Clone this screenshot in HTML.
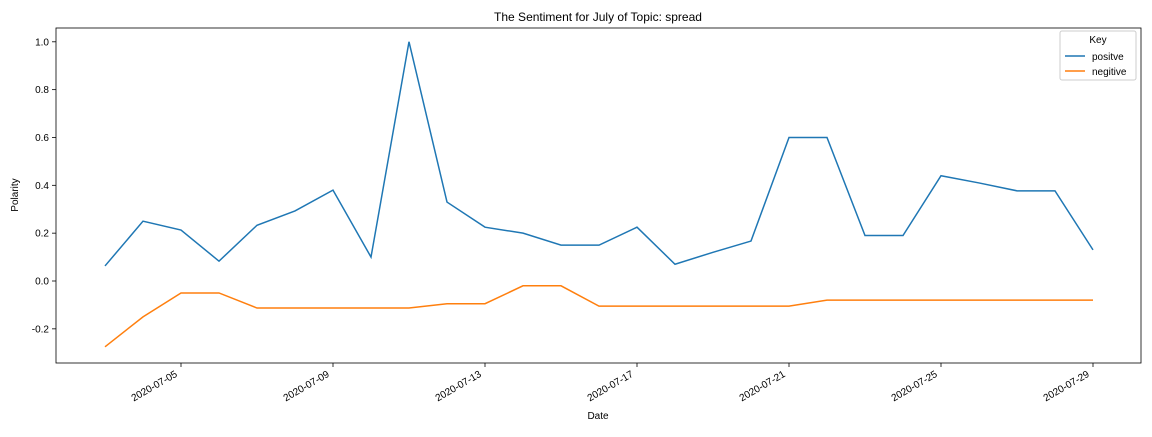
<!DOCTYPE html>
<html><head><meta charset="utf-8"><style>
body{margin:0;background:#fff;font-family:"Liberation Sans",sans-serif}
svg text{font-family:"Liberation Sans",sans-serif;fill:#000}
</style></head><body>
<svg id="chart" width="1152" height="432">
<rect x="0" y="0" width="1152" height="432" fill="#fff"/>
<text x="598" y="21" font-size="12" text-anchor="middle">The Sentiment for July of Topic: spread</text>
<text x="598" y="419" font-size="10" text-anchor="middle">Date</text>
<text x="18" y="195" font-size="10" text-anchor="middle" transform="rotate(-90 18 195)">Polarity</text>
<g id="axes"></g>
<g id="series"></g>
<rect x="56" y="28" width="1085" height="335" fill="none" stroke="#000" stroke-width="0.8"/>
<g>
<rect x="1060" y="31" width="76" height="49" fill="#fff" stroke="#ccc" rx="2"/>
<text x="1098" y="43" font-size="10" text-anchor="middle">Key</text>
<line x1="1065" y1="56" x2="1085" y2="56" stroke="#1f77b4" stroke-width="1.5"/>
<text x="1092" y="60" font-size="10">positve</text>
<line x1="1065" y1="71" x2="1085" y2="71" stroke="#ff7f0e" stroke-width="1.5"/>
<text x="1092" y="75" font-size="10">negitive</text>
</g>
</svg>
<script>
const days = [3,4,5,6,7,8,9,10,11,12,13,14,15,16,17,18,19,20,21,22,23,24,25,26,27,28,29];
const positive = [0.063,0.25,0.213,0.083,0.233,0.293,0.38,0.10,1.0,0.33,0.225,0.2,0.15,0.15,0.225,0.07,0.12,0.167,0.6,0.6,0.19,0.19,0.44,0.41,0.377,0.377,0.13];
const negative = [-0.275,-0.15,-0.05,-0.05,-0.113,-0.113,-0.113,-0.113,-0.113,-0.095,-0.095,-0.02,-0.02,-0.105,-0.105,-0.105,-0.105,-0.105,-0.105,-0.08,-0.08,-0.08,-0.08,-0.08,-0.08,-0.08,-0.08];
const yTicks = [-0.2,0,0.2,0.4,0.6,0.8,1.0];
const xTickDays = [5,9,13,17,21,25,29];
const xTickLabels = ["2020-07-05","2020-07-09","2020-07-13","2020-07-17","2020-07-21","2020-07-25","2020-07-29"];
const NS="http://www.w3.org/2000/svg";
const xs = d => 105 + (d-3)*38;
const ys = v => 281 - v*239.2;
const axes=document.getElementById('axes'), series=document.getElementById('series');
function mk(tag,attrs,parent){const e=document.createElementNS(NS,tag);for(const k in attrs)e.setAttribute(k,attrs[k]);parent.appendChild(e);return e;}
yTicks.forEach(v=>{
  const y=ys(v);
  const t=mk('line',{x1:52,x2:56,y1:y,y2:y,stroke:'#000','stroke-width':0.8},axes);
  
  
  const l=mk('text',{x:49,y:y+3.5,'font-size':10,'text-anchor':'end'},axes);
  
  
  l.textContent=v.toFixed(1);
});
xTickDays.forEach((d,i)=>{
  const x=xs(d);
  const t=mk('line',{x1:x,x2:x,y1:363,y2:367,stroke:'#000','stroke-width':0.8},axes);
  
  
  const ax=x-3, ay=376;
  const l=mk('text',{x:ax,y:ay,'font-size':10,'text-anchor':'end',transform:`rotate(-30 ${ax} ${ay})`},axes);
  
  
  l.textContent=xTickLabels[i];
});
function line(vals,color,name){
  const p=mk('polyline',{points:vals.map((v,i)=>xs(days[i])+','+ys(v)).join(' '),fill:'none',stroke:color,'stroke-width':1.5},series);
  
  
}
line(positive,'#1f77b4','positive-line');
line(negative,'#ff7f0e','negative-line');
</script>
</body></html>
